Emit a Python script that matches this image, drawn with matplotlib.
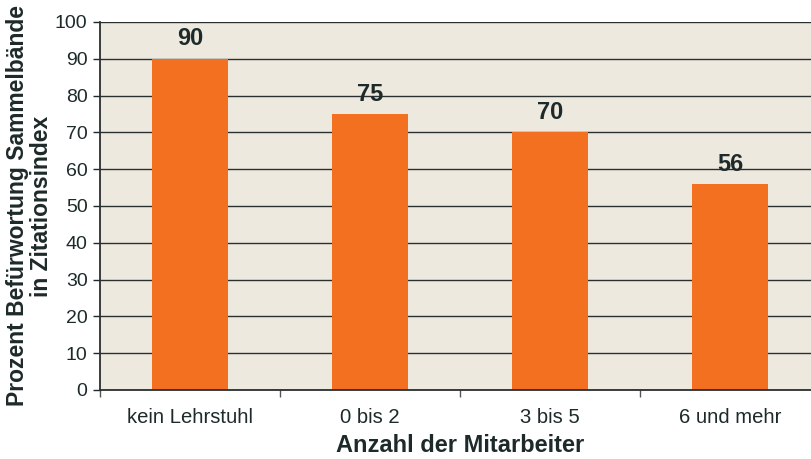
import numpy as np
import matplotlib.pyplot as plt

categories = ["kein Lehrstuhl", "0 bis 2", "3 bis 5", "6 und mehr"]
values = [90, 75, 70, 56]
yticks = list(range(0, 101, 10))

BAR_COLOR = "#F37021"
BG_COLOR = "#EDE9DF"
TEXT_COLOR = "#1E2A2A"
LINE_COLOR = "#2A2F2F"

plt.rcParams["font.family"] = ["Liberation Sans", "DejaVu Sans"]

fig = plt.figure(figsize=(8.11, 4.59), dpi=100)
# plot area runs past the right edge of the picture, as in the reference
ax = fig.add_axes([100 / 811, 69 / 459, 720 / 811, 368 / 459])
ax.set_facecolor(BG_COLOR)

xs = np.arange(len(categories))
ax.bar(xs, values, width=0.417, color=BAR_COLOR, zorder=3)

for x, v in zip(xs, values):
    ax.annotate(str(v), (x, v), xytext=(0, 6), textcoords="offset points",
                ha="center", va="bottom", fontsize=17, fontweight="bold",
                color=TEXT_COLOR)

ax.set_xlim(-0.5, len(categories) - 0.5)
ax.set_ylim(0, 100)
ax.set_yticks(yticks)
ax.tick_params(axis="y", labelsize=14, colors=TEXT_COLOR, length=5,
               width=1, direction="out", pad=4)
ax.set_xticks(xs)
ax.set_xticklabels(categories)
ax.set_xticks(np.arange(len(categories) + 1) - 0.5, minor=True)
ax.tick_params(axis="x", which="major", length=0, labelsize=14.6,
               colors=TEXT_COLOR, pad=13)
ax.tick_params(axis="x", which="minor", length=5, width=1, color="#555555")

ax.grid(axis="y", color=LINE_COLOR, linewidth=1.0, zorder=1)
ax.set_axisbelow(True)

for side in ["top", "right"]:
    ax.spines[side].set_visible(False)
for side in ["left", "bottom"]:
    ax.spines[side].set_color(LINE_COLOR)
    ax.spines[side].set_linewidth(1.3)
    ax.spines[side].set_zorder(4)

ax.set_xlabel("Anzahl der Mitarbeiter", fontsize=17, fontweight="bold",
              color=TEXT_COLOR, labelpad=5)
ax.set_ylabel("Prozent Befürwortung Sammelbände\nin Zitationsindex",
              fontsize=16.5, fontweight="bold", color=TEXT_COLOR,
              linespacing=1.05)
ax.yaxis.set_label_coords(-47 / 720, 0.5)

fig.savefig("out.png", dpi=100)
